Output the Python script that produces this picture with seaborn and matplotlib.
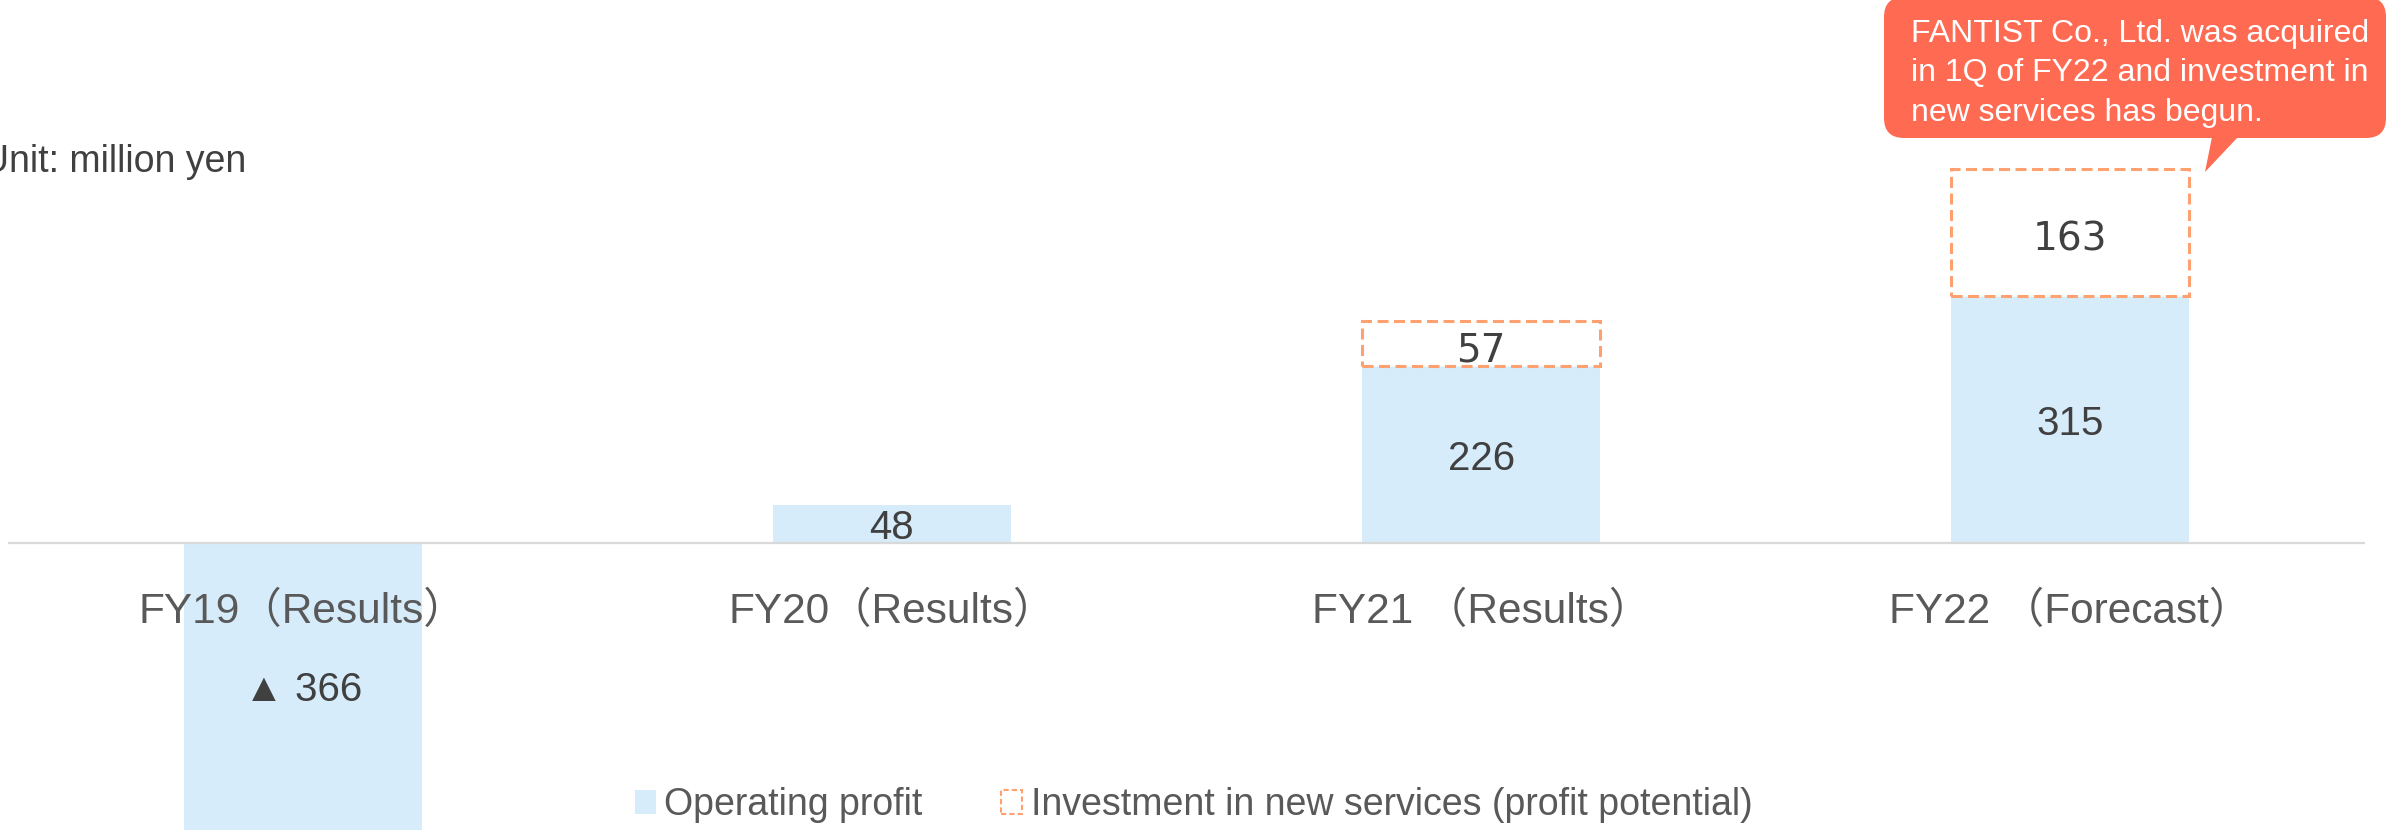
import matplotlib.pyplot as plt
import matplotlib
import seaborn as sns
import numpy as np
from matplotlib.patches import Patch, FancyBboxPatch, Polygon

sns.set_theme(style="white")
plt.rcParams["font.family"] = ["Liberation Sans", "Noto Sans CJK JP", "DejaVu Sans"]

# data
categories = ["FY19（Results）", "FY20（Results）", "FY21 （Results）", "FY22 （Forecast）"]
operating_profit = [-366, 48, 226, 315]
investment = [0, 0, 57, 163]
profit_labels = ["▲ 366", "48", "226", "315"]
legend_labels = ["Operating profit", "Investment in new services (profit potential)"]
note_lines = ["FANTIST Co., Ltd. was acquired",
              "in 1Q of FY22 and investment in",
              "new services has begun."]

BLUE = "#D6ECFB"
ORANGE = "#FFA071"
CALLOUT = "#FF6A52"
W, H = 2392, 832

fig = plt.figure(figsize=(W / 100, H / 100), dpi=100)
ax = fig.add_axes([8 / W, 0, (2365 - 8) / W, 1])

# operating profit bars
sns.barplot(x=categories, y=operating_profit, color=BLUE, saturation=1,
            width=0.404, ax=ax, edgecolor="none")

# investment boxes stacked on top
x = np.arange(len(categories))
inv = np.array(investment)
mask = inv > 0
ax.bar(x[mask], inv[mask], bottom=np.array(operating_profit)[mask], width=0.404,
       facecolor="white", edgecolor=ORANGE, linewidth=2.2, linestyle=(0, (3.6, 1.8)))

ax.set_xlim(-0.5, 3.5)
ax.set_ylim(-369, 693.5)
ax.axhline(0, color="#D9D9D9", linewidth=1.6, zorder=3)
ax.axis("off")

# value labels
for i, (v, lab) in enumerate(zip(operating_profit, profit_labels)):
    ax.text(i, v / 2, lab, ha="center", va="center_baseline", fontsize=29,
            color="#404040", zorder=4)
for i, (v, b) in enumerate(zip(investment, operating_profit)):
    if v > 0:
        ax.text(i, b + v / 2 - 4, str(v), ha="center", va="center_baseline", fontsize=28,
                color="#404040", family=["DejaVu Sans"], zorder=4)

# category labels
for i, c in enumerate(categories):
    ax.text(i, -102, c, ha="center", va="baseline", fontsize=30.5, color="#595959", zorder=4)

# unit text
fig.text(246 / W, 1 - 172 / H, "Unit: million yen", ha="right", va="baseline",
         fontsize=27, color="#404040")

# legend
handles = [Patch(facecolor=BLUE, edgecolor="none"),
           Patch(facecolor="white", edgecolor=ORANGE, linewidth=1.5, linestyle=(0, (2.5, 1.5)))]
fig.legend(handles, legend_labels, loc="center", bbox_to_anchor=(0.499, 1 - 805 / H),
           ncol=2, frameon=False, fontsize=27, handlelength=0.56, handleheight=0.6,
           handletextpad=0.22, columnspacing=2.1, borderpad=0, borderaxespad=0,
           labelcolor="#595959")

# callout
box = FancyBboxPatch((18.84, (H - 138) / 100), 5.02, 1.41,
                     boxstyle="round,pad=0,rounding_size=0.2",
                     transform=fig.dpi_scale_trans, facecolor=CALLOUT, edgecolor="none")
fig.add_artist(box)
tail = Polygon([(22.12, (H - 137) / 100), (22.38, (H - 137) / 100), (22.05, (H - 172) / 100)],
               closed=True, transform=fig.dpi_scale_trans, facecolor=CALLOUT, edgecolor="none")
fig.add_artist(tail)
for line, base in zip(note_lines, [42.4, 81.4, 120.5]):
    fig.text(1911 / W, 1 - base / H, line, ha="left", va="baseline", fontsize=23, color="white")

fig.savefig("out.png", dpi=100)
